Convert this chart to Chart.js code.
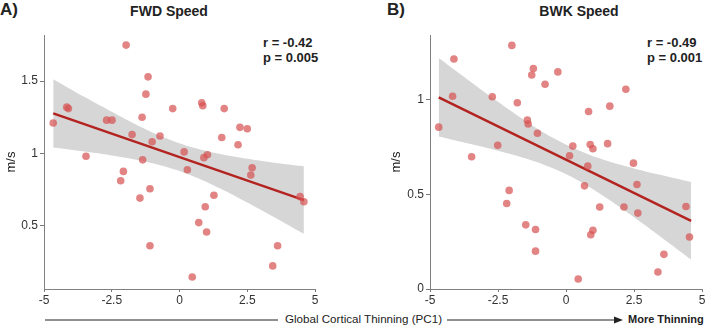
<!DOCTYPE html>
<html>
<head>
<meta charset="utf-8">
<script src="https://cdn.jsdelivr.net/npm/chart.js"></script>
<style>
  body { margin:0; width:709px; height:327px; background:#fff; position:relative; overflow:hidden;
         font-family:"Liberation Sans", Arial, sans-serif; color:#222; }
  .abs { position:absolute; white-space:nowrap; }
  .panel { position:absolute; top:0; height:310px; }
  .letter { font-weight:bold; font-size:17px; top:0; }
  .title { font-weight:bold; font-size:14px; top:3px; transform:translateX(-50%); }
  .stat { font-weight:bold; font-size:13px; line-height:15px; top:35px; }
</style>
</head>
<body>
<div class="abs letter" style="left:0">A)</div>
<div class="abs letter" style="left:387px">B)</div>
<div class="abs title" style="left:169px">FWD Speed</div>
<div class="abs title" style="left:579px">BWK Speed</div>
<div class="abs stat" style="left:263px">r = -0.42<br>p = 0.005</div>
<div class="abs stat" style="left:647px">r = -0.49<br>p = 0.001</div>

<div class="panel" style="left:0;width:355px"><canvas id="fwd"></canvas></div>
<div class="panel" style="left:385px;width:324px"><canvas id="bwk"></canvas></div>

<svg class="abs" style="left:0;top:310px" width="709" height="17">
  <line x1="45" y1="10" x2="278" y2="10" stroke="#222" stroke-width="1"/>
  <line x1="447" y1="10" x2="617" y2="10" stroke="#222" stroke-width="1"/>
  <polygon points="623,10 614,6.5 614,13.5" fill="#222"/>
</svg>
<div class="abs" style="left:285px;top:312px;font-size:11.6px;line-height:14px">Global Cortical Thinning (PC1)</div>
<div class="abs" style="left:628px;top:312px;font-size:11px;line-height:14px;font-weight:bold">More Thinning</div>

<script>
// FWD speed vs PC1
const fwdX = [-1.97,-1.16,-1.24,-4.16,-4.10,-4.66,-2.69,-2.49,-1.38,-1.75,-1.01,-0.72,-0.25,0.82,0.86,1.65,1.56,2.23,2.50,2.16,0.17,-3.45,-1.36,1.03,0.90,0.29,-2.07,-2.17,2.68,2.63,-1.09,-1.46,1.27,4.45,4.59,0.95,0.71,1.00,-1.09,3.62,3.44,0.47];
const fwdY = [1.75,1.53,1.41,1.32,1.31,1.21,1.23,1.23,1.25,1.13,1.08,1.12,1.31,1.35,1.33,1.31,1.11,1.18,1.17,1.06,1.01,0.98,0.955,0.99,0.97,0.886,0.875,0.81,0.90,0.85,0.755,0.69,0.71,0.70,0.665,0.63,0.52,0.455,0.36,0.36,0.22,0.143];
const fwdFitX = [-4.66, 4.59];
const fwdFitY = [1.277, 0.676];
const fwdBandX = [-4.66,-3.5,-2.5,-1.5,-0.5,0.5,1.5,2.5,3.5,4.59];
const fwdUpper = [1.514,1.39,1.288,1.19,1.105,1.04,0.995,0.962,0.935,0.91];
const fwdLower = [1.04,1.012,0.985,0.952,0.907,0.842,0.757,0.66,0.557,0.442];
const fwdYTicks = [0.5, 1, 1.5];

// BWK speed vs PC1
const bwkX = [-1.99,-4.12,-1.20,-1.26,-0.30,-0.77,2.20,-4.17,-2.71,-1.79,0.83,1.61,-4.68,-1.42,-1.39,-1.05,-2.51,0.25,0.89,0.99,1.53,0.13,-3.47,2.48,0.80,0.68,2.61,-2.09,-2.18,1.24,2.13,2.64,4.41,4.54,-1.48,-1.12,0.99,0.91,-1.12,3.60,3.38,0.45];
const bwkY = [1.287,1.215,1.165,1.131,1.147,1.082,1.055,1.018,1.016,0.984,0.938,0.966,0.855,0.892,0.872,0.823,0.759,0.755,0.763,0.741,0.768,0.704,0.699,0.665,0.649,0.545,0.552,0.521,0.452,0.433,0.433,0.401,0.436,0.275,0.339,0.314,0.31,0.287,0.20,0.183,0.09,0.053];
const bwkFitX = [-4.68, 4.6];
const bwkFitY = [1.013, 0.36];
const bwkBandX = [-4.68,-3.5,-2.5,-1.5,-0.5,0.5,1.5,2.5,3.5,4.6];
const bwkUpper = [1.22,1.094,0.989,0.889,0.80,0.73,0.677,0.637,0.602,0.565];
const bwkLower = [0.806,0.766,0.731,0.691,0.639,0.569,0.479,0.379,0.274,0.156];
const bwkYTicks = [0, 0.5, 1];

const xTicks = [-5, -2.5, 0, 2.5, 5];

const pts = (xs, ys) => xs.map((x, i) => ({ x, y: ys[i] }));
const plain = v => String(v);

function makeChart(id, d) {
  new Chart(document.getElementById(id), {
    type: 'scatter',
    data: {
      datasets: [
        { data: pts(d.x, d.y), order: 0, pointRadius: 3.8, pointHoverRadius: 3.8,
          backgroundColor: 'rgba(215,80,80,0.7)', borderWidth: 0 },
        { data: pts(d.fitX, d.fitY), order: 1, showLine: true, pointRadius: 0,
          borderColor: '#b3231f', borderWidth: 2.5 },
        { data: pts(d.bandX, d.lower), order: 3, showLine: true, pointRadius: 0,
          borderWidth: 0, borderColor: 'rgba(0,0,0,0)', tension: 0.4 },
        { data: pts(d.bandX, d.upper), order: 2, showLine: true, pointRadius: 0,
          borderWidth: 0, borderColor: 'rgba(0,0,0,0)', tension: 0.4,
          fill: { target: 2 }, backgroundColor: 'rgb(214,214,214)' }
      ]
    },
    options: {
      responsive: true, maintainAspectRatio: false, animation: false,
      layout: { padding: { top: 35, right: d.padRight, left: 0, bottom: 0 } },
      plugins: { legend: { display: false }, tooltip: { enabled: false } },
      scales: {
        x: {
          min: -5, max: 5,
          afterBuildTicks: s => { s.ticks = xTicks.map(v => ({ value: v })); },
          afterFit: s => { s.height = 21; },
          grid: { drawOnChartArea: false, drawTicks: true, tickLength: 3, color: '#777' },
          border: { color: '#808080' },
          ticks: { callback: plain, color: '#333', font: { size: 12, family: 'Liberation Sans' }, padding: 1, maxRotation: 0 }
        },
        y: {
          min: d.yMin, max: d.yMax,
          afterBuildTicks: s => { s.ticks = d.yTicks.map(v => ({ value: v })); },
          afterFit: s => { s.width = d.axisW; },
          grid: { drawOnChartArea: false, drawTicks: true, tickLength: 4, color: '#777' },
          border: { color: '#808080' },
          title: { display: true, text: 'm/s', color: '#222', font: { size: 13, family: 'Liberation Sans' } },
          ticks: { callback: plain, color: '#333', font: { size: 12, family: 'Liberation Sans' }, padding: 2 }
        }
      }
    }
  });
}

makeChart('fwd', { x: fwdX, y: fwdY, fitX: fwdFitX, fitY: fwdFitY, bandX: fwdBandX,
  upper: fwdUpper, lower: fwdLower, yTicks: fwdYTicks, yMin: 0.06, yMax: 1.82, axisW: 44, padRight: 40 });
makeChart('bwk', { x: bwkX, y: bwkY, fitX: bwkFitX, fitY: bwkFitY, bandX: bwkBandX,
  upper: bwkUpper, lower: bwkLower, yTicks: bwkYTicks, yMin: 0, yMax: 1.342, axisW: 45, padRight: 7 });
</script>
</body>
</html>
